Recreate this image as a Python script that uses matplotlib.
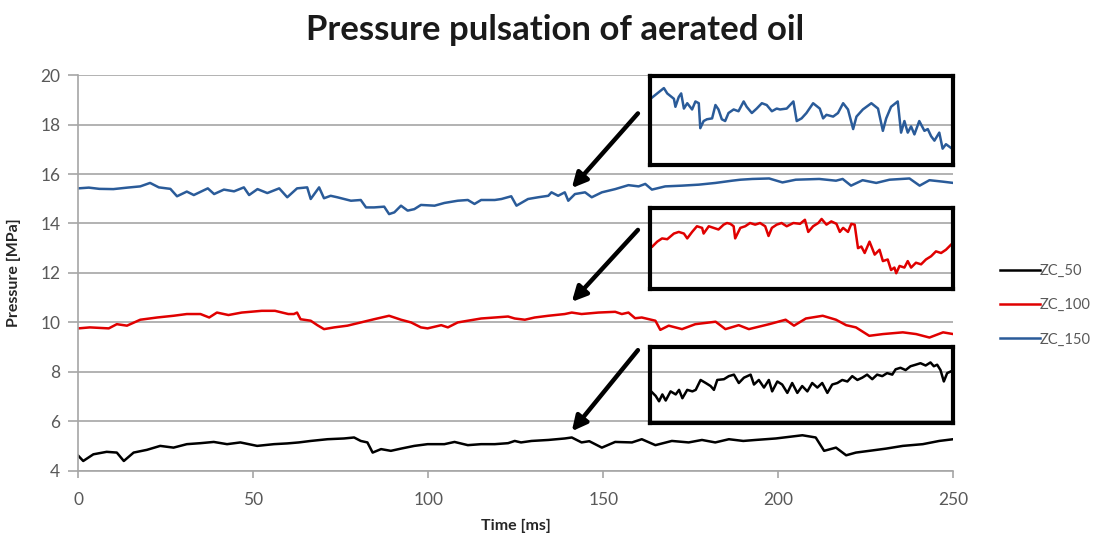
import matplotlib
matplotlib.use('Agg')
import matplotlib.pyplot as plt

plt.rcParams['font.family'] = ['Lato', 'DejaVu Sans']

# main series, time [ms] / pressure [MPa]
t_150 = [0, 3, 6, 10, 14, 17.7, 20.5, 23, 26.3, 28.2, 31, 33, 37, 38.8, 41.6, 44.5, 47.3, 48.8,
         51.2, 54, 57.4, 59.7, 62.5, 65.4, 66.4, 68.8, 70.2, 72.1, 74, 77.9, 80.7, 82.2, 84.5,
         87.4, 88.8, 90.3, 92.2, 94.1, 96, 97.9, 101.8, 104.6, 108.4, 111.3, 113.2, 115.1, 119,
         120.9, 123.7, 125.2, 128.5, 131.4, 134.3, 135.2, 137.1, 139, 140, 141.9, 144.8, 146.7,
         149.6, 153.4, 157.2, 160.1, 162, 163.9, 167.7, 172.5, 177.3, 182.1, 186.8, 189.2,
         192.6, 197.4, 201.2, 205, 211.7, 216.5, 218.4, 220.8, 224.1, 228, 231.8, 237.5, 240.4,
         243.2, 247.1, 250]
p_150 = [15.42, 15.45, 15.40, 15.39, 15.45, 15.50, 15.64, 15.46, 15.40, 15.10, 15.29, 15.15,
         15.42, 15.19, 15.37, 15.30, 15.46, 15.15, 15.39, 15.23, 15.42, 15.06, 15.42, 15.46,
         14.99, 15.46, 15.02, 15.12, 15.06, 14.92, 14.95, 14.65, 14.65, 14.68, 14.38, 14.45,
         14.72, 14.52, 14.58, 14.75, 14.72, 14.83, 14.92, 14.95, 14.79, 14.95, 14.95, 14.99,
         15.10, 14.72, 14.99, 15.06, 15.12, 15.26, 15.12, 15.26, 14.92, 15.19, 15.26, 15.06,
         15.26, 15.39, 15.55, 15.50, 15.60, 15.37, 15.50, 15.53, 15.57, 15.64, 15.73, 15.77,
         15.80, 15.82, 15.66, 15.77, 15.80, 15.73, 15.80, 15.53, 15.75, 15.64, 15.77, 15.82,
         15.53, 15.75, 15.69, 15.64]

t_100 = [0, 3.3, 8.7, 11, 13.9, 17.7, 22.5, 27.2, 31, 34.9, 37.4, 39.6, 42.9, 46.7, 52.4, 56.2,
         60, 61.6, 62.5, 63.5, 66.4, 68.3, 70.2, 73.1, 76.9, 80.7, 84.5, 88.8, 90.3, 92.2, 95.1,
         97.9, 99.8, 103.7, 105.6, 108.4, 111.3, 115.1, 119, 122.8, 124.7, 127.6, 130.4, 134.3,
         139, 141, 143.8, 148.6, 153.4, 155.3, 157.2, 159.1, 161, 164.9, 166.3, 168.7, 172.5,
         176.3, 182.1, 184.9, 188.7, 191.6, 197.4, 202.1, 204.5, 207.9, 212.7, 216.5, 219.4,
         222.2, 226, 229.9, 235.6, 239.4, 243.2, 247.1, 250]
p_100 = [9.76, 9.80, 9.76, 9.93, 9.87, 10.11, 10.20, 10.27, 10.34, 10.34, 10.20, 10.40, 10.30,
         10.40, 10.47, 10.47, 10.34, 10.34, 10.40, 10.13, 10.07, 9.89, 9.73, 9.80, 9.87, 10.00,
         10.13, 10.27, 10.20, 10.11, 10.00, 9.80, 9.76, 9.89, 9.80, 10.00, 10.07, 10.16, 10.20,
         10.24, 10.16, 10.11, 10.20, 10.27, 10.34, 10.40, 10.34, 10.40, 10.43, 10.34, 10.40,
         10.17, 10.20, 10.07, 9.70, 9.87, 9.73, 9.93, 10.03, 9.73, 9.89, 9.73, 9.93, 10.11, 9.87,
         10.16, 10.27, 10.11, 9.89, 9.80, 9.46, 9.53, 9.60, 9.53, 9.39, 9.60, 9.53]

t_50 = [0, 1.4, 4.3, 8.1, 11, 13, 15.8, 19.6, 23.4, 27.2, 31, 34.9, 38.7, 42.5, 46.3, 51.1,
        55.9, 59.7, 63, 66.4, 71.2, 75.9, 78.8, 80.7, 82.6, 84.1, 86.5, 89.3, 92.2, 96, 99.8,
        104.6, 107.5, 111.3, 115.1, 119, 122.8, 124.7, 126.5, 129.5, 134.3, 139, 141, 143.8,
        146, 149.6, 153.4, 158.2, 161, 164.9, 169.6, 174.4, 178.2, 182, 185.9, 190, 193.5,
        199.3, 206.9, 210.7, 213.1, 216.5, 219.4, 222.2, 226, 230.8, 235.6, 241.3, 246, 250]
p_50 = [4.61, 4.40, 4.67, 4.77, 4.74, 4.40, 4.74, 4.85, 5.01, 4.94, 5.08, 5.12, 5.17, 5.08,
        5.15, 5.01, 5.08, 5.11, 5.15, 5.21, 5.28, 5.31, 5.35, 5.21, 5.15, 4.74, 4.88, 4.81,
        4.90, 5.01, 5.08, 5.08, 5.17, 5.04, 5.08, 5.08, 5.12, 5.21, 5.15, 5.21, 5.25, 5.31,
        5.35, 5.15, 5.20, 4.94, 5.17, 5.15, 5.28, 5.04, 5.21, 5.15, 5.25, 5.15, 5.28, 5.21,
        5.25, 5.31, 5.44, 5.35, 4.81, 4.94, 4.63, 4.74, 4.81, 4.90, 5.01, 5.08, 5.21, 5.28]

# zoomed details (relative time 0-100, relative pressure 0-1)
zt_150 = [0.2, 2.4, 4.6, 5.7, 6.8, 7.9, 8.4, 9.5, 10.3, 11.2, 12.3, 13.9, 15.0, 16.1, 16.6,
          17.7, 18.8, 20.5, 21.6, 22.6, 23.7, 24.8, 25.9, 27.6, 29.2, 30.9, 31.9, 33.6, 35.2,
          36.9, 38.5, 40.2, 41.8, 42.9, 45.1, 47.3, 48.4, 50.0, 51.6, 53.8, 56.0, 57.1, 58.2,
          60.4, 62.0, 63.7, 65.3, 67.0, 68.1, 70.2, 73.0, 75.2, 76.8, 77.9, 79.5, 81.7, 82.8,
          83.9, 85.0, 86.1, 87.2, 88.8, 90.5, 91.6, 92.7, 93.8, 95.4, 96.5, 97.6, 99.2]
zp_150 = [0.74, 0.80, 0.86, 0.80, 0.77, 0.74, 0.65, 0.76, 0.80, 0.63, 0.69, 0.62, 0.71, 0.69,
          0.41, 0.49, 0.51, 0.52, 0.67, 0.62, 0.51, 0.49, 0.58, 0.62, 0.60, 0.71, 0.65, 0.58,
          0.63, 0.69, 0.67, 0.60, 0.63, 0.62, 0.63, 0.71, 0.49, 0.52, 0.58, 0.69, 0.63, 0.52,
          0.56, 0.54, 0.58, 0.69, 0.62, 0.40, 0.54, 0.62, 0.69, 0.63, 0.38, 0.52, 0.65, 0.71,
          0.36, 0.49, 0.36, 0.43, 0.34, 0.49, 0.38, 0.40, 0.32, 0.27, 0.36, 0.18, 0.23, 0.19]

zt_100 = [0.8, 2.4, 4.0, 5.7, 7.9, 9.5, 11.2, 12.3, 13.9, 15.5, 17.2, 17.7, 19.4, 21.0, 22.6,
          24.3, 25.4, 26.5, 27.6, 28.1, 29.8, 31.4, 33.0, 34.7, 36.3, 38.0, 39.1, 40.2, 41.8,
          43.4, 45.1, 47.3, 49.5, 51.1, 52.2, 53.8, 55.5, 56.6, 58.2, 59.8, 61.5, 62.6, 63.7,
          65.3, 66.4, 67.5, 68.6, 69.7, 70.8, 72.4, 74.1, 75.7, 76.8, 78.4, 79.5, 80.6, 81.2,
          82.3, 83.9, 85.0, 86.1, 87.7, 89.4, 91.0, 92.7, 94.3, 96.0, 97.6, 99.2]
zp_100 = [0.53, 0.59, 0.63, 0.62, 0.69, 0.71, 0.69, 0.63, 0.71, 0.78, 0.76, 0.69, 0.78, 0.76,
          0.74, 0.80, 0.82, 0.81, 0.78, 0.63, 0.76, 0.78, 0.82, 0.80, 0.82, 0.78, 0.66, 0.76,
          0.80, 0.82, 0.78, 0.82, 0.81, 0.86, 0.71, 0.78, 0.82, 0.87, 0.80, 0.84, 0.81, 0.71,
          0.76, 0.71, 0.81, 0.80, 0.51, 0.53, 0.45, 0.59, 0.43, 0.49, 0.35, 0.37, 0.24, 0.27,
          0.20, 0.29, 0.27, 0.35, 0.27, 0.33, 0.31, 0.37, 0.41, 0.47, 0.45, 0.49, 0.55]

zt_50 = [0.4, 1.9, 3.0, 4.1, 5.2, 6.8, 8.5, 9.6, 10.7, 12.3, 14.0, 15.1, 16.7, 18.4, 20.0,
         21.1, 22.2, 24.4, 26.0, 27.7, 29.3, 31.0, 33.2, 34.3, 35.9, 37.6, 39.2, 40.3, 42.0,
         43.6, 45.3, 46.9, 48.6, 50.2, 51.9, 53.5, 55.2, 56.8, 58.5, 60.1, 61.8, 63.4, 65.1,
         66.7, 68.4, 70.0, 71.6, 73.3, 74.9, 76.6, 78.2, 79.9, 81.0, 82.6, 84.3, 85.9, 87.6,
         89.2, 90.9, 92.5, 93.6, 94.7, 95.8, 96.9, 98.0, 99.1]
zp_50 = [0.42, 0.36, 0.29, 0.38, 0.30, 0.42, 0.38, 0.44, 0.33, 0.44, 0.42, 0.44, 0.57, 0.53,
         0.49, 0.44, 0.57, 0.58, 0.62, 0.64, 0.53, 0.60, 0.64, 0.51, 0.57, 0.47, 0.57, 0.42,
         0.55, 0.51, 0.40, 0.53, 0.40, 0.49, 0.42, 0.53, 0.47, 0.53, 0.40, 0.51, 0.53, 0.57,
         0.55, 0.62, 0.57, 0.60, 0.64, 0.58, 0.64, 0.62, 0.66, 0.64, 0.71, 0.73, 0.70, 0.75,
         0.77, 0.79, 0.76, 0.80, 0.75, 0.77, 0.70, 0.55, 0.66, 0.68]

c_50, c_100, c_150 = 'black', '#e00000', '#2a5b99'
grid_c = '#a6a6a6'
txt_c = '#595959'

fig = plt.figure(figsize=(11.11, 5.40), dpi=100)
ax = fig.add_axes([0.0705, 0.128, 0.7875, 0.733])

ax.plot(t_50, p_50, color=c_50, lw=1.8, label='ZC_50')
ax.plot(t_100, p_100, color=c_100, lw=1.8, label='ZC_100')
ax.plot(t_150, p_150, color=c_150, lw=1.8, label='ZC_150')

ax.set_xlim(0, 250)
ax.set_ylim(4, 20)
ax.set_xticks(range(0, 251, 50))
ax.set_yticks(range(4, 21, 2))
ax.yaxis.grid(True, color=grid_c, lw=1.2)
ax.set_axisbelow(True)
for s in ['top', 'right']:
    ax.spines[s].set_visible(False)
for s in ['left', 'bottom']:
    ax.spines[s].set_color(grid_c)
    ax.spines[s].set_linewidth(1.2)
ax.tick_params(axis='both', colors=grid_c, labelcolor=txt_c, labelsize=12.5, width=1.2)
ax.tick_params(axis='y', length=7, pad=6)
ax.tick_params(axis='x', length=5, pad=10)
ax.set_xlabel('Time [ms]', fontsize=11.5, fontweight='bold', color='#262626', labelpad=8)
ax.set_ylabel('Pressure [MPa]', fontsize=11.5, fontweight='bold', color='#262626', labelpad=14)
fig.suptitle('Pressure pulsation of aerated oil', fontsize=25, fontweight='bold',
             color='#1a1a1a', y=0.975)

# arrows towards the zoomed area
arrow_kw = dict(arrowstyle='-|>', lw=3.2, color='black', mutation_scale=22, shrinkA=0, shrinkB=0)
ax.annotate('', xy=(141.0, 15.43), xytext=(159.9, 18.45), arrowprops=arrow_kw)
ax.annotate('', xy=(141.0, 10.83), xytext=(159.9, 13.74), arrowprops=arrow_kw)
ax.annotate('', xy=(141.0, 5.60), xytext=(159.9, 8.88), arrowprops=arrow_kw)

# zoom boxes
def zoom_box(rect, xs, ys, color):
    a = fig.add_axes(rect)
    a.set_facecolor('none')
    a.plot(xs, ys, color=color, lw=1.8)
    a.set_xlim(0, 100)
    a.set_ylim(0, 1)
    a.set_xticks([])
    a.set_yticks([])
    for s in a.spines.values():
        s.set_linewidth(3)
        s.set_color('black')
    return a

zoom_box([0.585, 0.695, 0.273, 0.165], zt_150, zp_150, c_150)
zoom_box([0.585, 0.464, 0.273, 0.150], zt_100, zp_100, c_100)
zoom_box([0.585, 0.216, 0.273, 0.141], zt_50, zp_50, c_50)

leg = fig.legend(loc='center left', bbox_to_anchor=(0.888, 0.435), frameon=False,
                 fontsize=10.5, handlelength=2.75, handletextpad=0.0, labelspacing=1.4)
for txt in leg.get_texts():
    txt.set_color(txt_c)

plt.savefig('out.png', dpi=100)
